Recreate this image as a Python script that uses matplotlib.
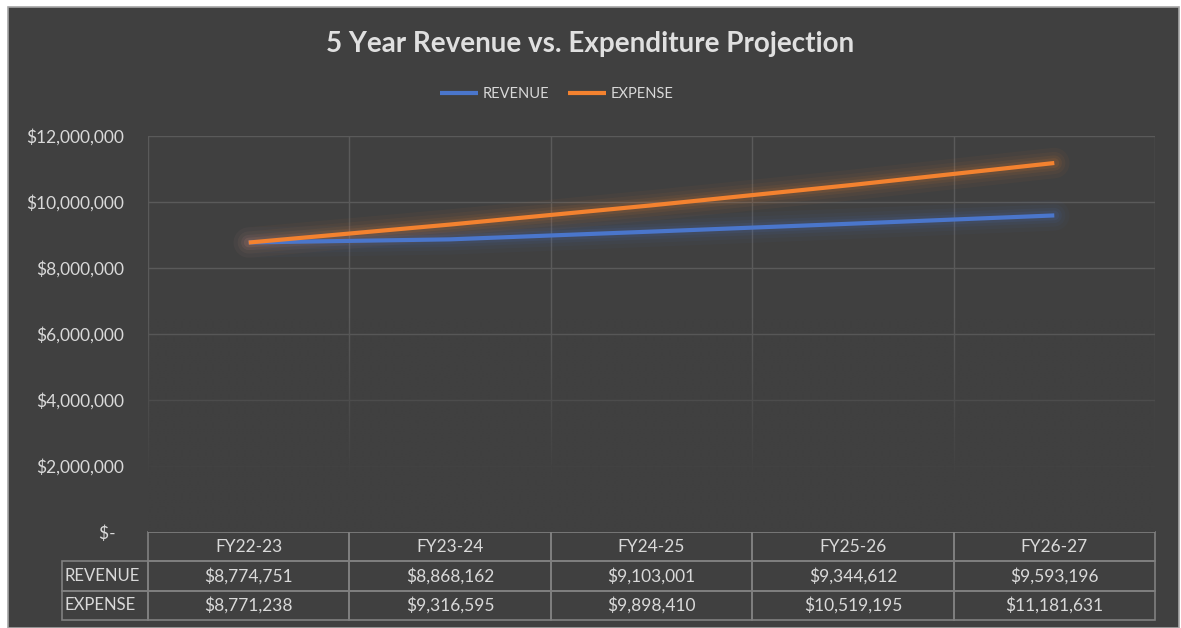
""" 5 Year Revenue vs. Expenditure Projection

Line chart with a data table underneath, dark Excel-like theme
"""

import numpy as np
import matplotlib
matplotlib.use('Agg')
import matplotlib.pyplot as plt
from matplotlib.patches import Rectangle
from matplotlib.table import Table

# data
years = ['FY22-23', 'FY23-24', 'FY24-25', 'FY25-26', 'FY26-27']
revenue = [8774751, 8868162, 9103001, 9344612, 9593196]
expense = [8771238, 9316595, 9898410, 10519195, 11181631]
series_names = ['REVENUE', 'EXPENSE']
y_ticks = [0, 2000000, 4000000, 6000000, 8000000, 10000000, 12000000]

# styles
bg = '#404040'
grid_col = '#5a5a5a'
text_col = '#d9d9d9'
edge_col = '#808080'
blue = '#4a76cc'
orange = '#f4822f'

plt.rcParams['font.family'] = ['Lato', 'DejaVu Sans']

W, H = 1181, 628
fig = plt.figure(figsize=(W / 100, H / 100), dpi=100, facecolor='white')

# chart area box
fig.patches.append(Rectangle((8 / W, 0), (1179 - 8) / W, (H - 7) / H,
                             transform=fig.transFigure, facecolor=bg,
                             edgecolor='#a6a6a6', lw=1.2, zorder=-5))

left, right, top, bottom = 148, 1155, 136, 532
ax = fig.add_axes([left / W, 1 - bottom / H, (right - left) / W, (bottom - top) / H])
ax.set_zorder(2)
ax.patch.set_alpha(0)

x = np.arange(len(years))

# grid (horizontal at ticks, vertical at category boundaries)
for yv in y_ticks[1:]:
    ax.axhline(yv, color=grid_col, lw=1, zorder=1)
for xb in np.arange(-0.5, len(years), 1.0):
    ax.axvline(xb, color=grid_col, lw=1, zorder=1)

# fade the grid out toward the bottom
fade = np.zeros((200, 2, 4))
fade[..., :3] = matplotlib.colors.to_rgb(bg)
alpha = np.clip((6.5e6 - np.linspace(0, 6.5e6, 200)) / 5.0e6, 0, 1)
fade[..., 3] = alpha[:, None]
ax.imshow(fade, extent=[-0.5, len(years) - 0.5, 0, 6.5e6], origin='lower',
          aspect='auto', zorder=2, interpolation='bilinear')

# lines with glow
for vals, col, name in [(revenue, blue, series_names[0]), (expense, orange, series_names[1])]:
    for lw, a in [(22, 0.04), (16, 0.05), (11, 0.07), (7, 0.10)]:
        ax.plot(x, vals, color=col, lw=lw, alpha=a, solid_capstyle='round',
                solid_joinstyle='round', zorder=3)
    ax.plot(x, vals, color=col, lw=3, solid_capstyle='butt', zorder=4, label=name)

ax.set_xlim(-0.5, len(years) - 0.5)
ax.set_ylim(0, 12000000)
ax.set_yticks(y_ticks)
ax.set_yticklabels(['$-  '] + ['${:,.0f}'.format(v) for v in y_ticks[1:]])
ax.tick_params(axis='y', length=0, pad=17, labelsize=12.5, labelcolor=text_col)
ax.set_xticks([])
for s in ax.spines.values():
    s.set_visible(False)

# data table under the plot
tab = Table(ax, bbox=[0, -88 / 396, 1, 88 / 396])
cw = 1.0 / len(years)
rh = 88 / 396 / 3
for j, yr in enumerate(years):
    tab.add_cell(0, j, cw, rh, text=yr, loc='center')
rows = [revenue, expense]
for i, vals in enumerate(rows):
    tab.add_cell(i + 1, -1, 86 / 1007, rh, text=series_names[i], loc='left')
    for j, v in enumerate(vals):
        tab.add_cell(i + 1, j, cw, rh, text='${:,.0f}'.format(v), loc='center')
tab.auto_set_font_size(False)
tab.set_fontsize(12.5)
for (r, c), cell in tab.get_celld().items():
    cell.set_edgecolor(edge_col)
    cell.set_facecolor('none')
    cell.set_linewidth(1.2)
    cell.get_text().set_color(text_col)
    if c == -1:
        cell.PAD = 0.03
        cell.get_text().set_fontsize(12)
ax.add_table(tab)

# title and legend
fig.text(0.5, 1 - 44 / H, '5 Year Revenue vs. Expenditure Projection',
         ha='center', va='center', fontsize=20, fontweight='bold', color='#e0e0e0')
leg = ax.legend(loc='center', bbox_to_anchor=(557 / W, 1 - 94 / H),
                bbox_transform=fig.transFigure, ncol=2, frameon=False,
                fontsize=10.5, handlelength=2.6, handletextpad=0.3,
                columnspacing=1.3)
for t in leg.get_texts():
    t.set_color(text_col)

fig.savefig('out.png', dpi=100, facecolor=fig.get_facecolor())
